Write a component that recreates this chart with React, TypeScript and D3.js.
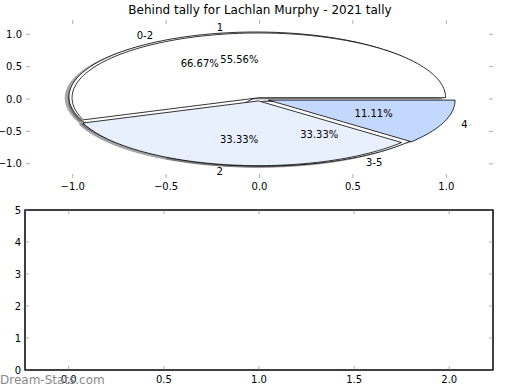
import * as d3 from "d3";

const TITLE = "Behind tally for Lachlan Murphy - 2021 tally";

// outer pie (drawn first)
const pie1Labels = ["0-2", "3-5"];
const pie1Values = [6, 3];
const pie1Colors = ["#ffffff", "#ffffff"];
const pie1Explode = [0.04, 0.04];

// inner pie (drawn on top)
const pie2Labels = ["1", "2", "4"];
const pie2Values = [5, 3, 1];
const pie2Colors = ["#ffffff", "#e8f0fe", "#c4d7fd"];
const pie2Explode = [0.02, 0.03, 0.05];

const topTicks = [-1.0, -0.5, 0.0, 0.5, 1.0];
const bottomXTicks = [0.0, 0.5, 1.0, 1.5, 2.0];
const bottomYTicks = [0, 1, 2, 3, 4, 5];

const FONT = "DejaVu Sans, sans-serif";
const TICK_COLOR = "#b0b0b0";
const TICK_LEN = 4;

const TOP = { left: 26, right: 493, top: 20, bottom: 178 };
const BOT = { left: 25, right: 493, top: 210, bottom: 370 };

type Wedge = {
  label: string;
  value: number;
  pct: number;
  a0: number;
  a1: number;
  color: string;
  explode: number;
};

const buildWedges = (
  labels: string[],
  values: number[],
  colors: string[],
  explode: number[]
): Wedge[] => {
  const total = d3.sum(values);
  // d3.pie gives cumulative angles; treat them as counter-clockwise from east
  const arcs = d3
    .pie<number>()
    .sort(null)
    .startAngle(0)
    .endAngle(2 * Math.PI)(values);
  return arcs.map((a, i) => ({
    label: labels[i],
    value: values[i],
    pct: (values[i] / total) * 100,
    a0: a.startAngle,
    a1: a.endAngle,
    color: colors[i],
    explode: explode[i],
  }));
};

const scaleColor = (c: string, k: number) => {
  const rgb = d3.rgb(c);
  return d3.rgb(rgb.r * k, rgb.g * k, rgb.b * k).formatHex();
};

export default function App() {
  const width = 520;
  const height = 390;

  const x = d3.scaleLinear().domain([-1.25, 1.25]).range([TOP.left, TOP.right]);
  const y = d3.scaleLinear().domain([-1.22, 1.22]).range([TOP.bottom, TOP.top]);

  const bx = d3.scaleLinear().domain([-0.23, 2.23]).range([BOT.left, BOT.right]);
  const by = d3.scaleLinear().domain([0, 5]).range([BOT.bottom, BOT.top]);

  const wedges1 = buildWedges(pie1Labels, pie1Values, pie1Colors, pie1Explode);
  const wedges2 = buildWedges(pie2Labels, pie2Values, pie2Colors, pie2Explode);

  const wedgePath = (w: Wedge, ox = 0, oy = 0) => {
    const mid = (w.a0 + w.a1) / 2;
    const cx = w.explode * Math.cos(mid) + ox;
    const cy = w.explode * Math.sin(mid) + oy;
    const n = Math.max(8, Math.ceil(((w.a1 - w.a0) / (2 * Math.PI)) * 180));
    const pts: [number, number][] = [[cx, cy]];
    d3.range(n + 1).forEach((k) => {
      const t = w.a0 + ((w.a1 - w.a0) * k) / n;
      pts.push([cx + Math.cos(t), cy + Math.sin(t)]);
    });
    const line = d3
      .line<[number, number]>()
      .x((d) => x(d[0]))
      .y((d) => y(d[1]));
    return line(pts) + "Z";
  };

  const textPos = (w: Wedge, r: number) => {
    const mid = (w.a0 + w.a1) / 2;
    const cx = w.explode * Math.cos(mid);
    const cy = w.explode * Math.sin(mid);
    return { px: x(cx + r * Math.cos(mid)), py: y(cy + r * Math.sin(mid)), cos: Math.cos(mid) };
  };

  const allWedges = [...wedges1, ...wedges2];

  return (
    <svg width={width} height={height} style={{ position: "absolute", left: 0, top: 0 }}>
      <rect width={width} height={height} fill="white" />
      <text x={260} y={14} textAnchor="middle" fontFamily={FONT} fontSize={12}>
        {TITLE}
      </text>

      {/* shadows sit below every wedge */}
      {allWedges.map((w, i) => (
        <path
          key={"s" + i}
          d={wedgePath(w, -0.02, -0.02)}
          fill={scaleColor(w.color, 0.3)}
          stroke={scaleColor(w.color, 0.3)}
          opacity={0.5}
        />
      ))}
      {allWedges.map((w, i) => (
        <path
          key={"w" + i}
          d={wedgePath(w)}
          fill={w.color}
          stroke="black"
          strokeWidth={0.8}
          strokeLinejoin="round"
        />
      ))}

      {/* labels and percentages */}
      {allWedges.map((w, i) => {
        const l = textPos(w, 1.1);
        const p = textPos(w, 0.6);
        return (
          <g key={"t" + i} fontFamily={FONT} fontSize={10}>
            <text x={l.px} y={l.py} dy="0.35em" textAnchor={l.cos < 0 ? "end" : "start"}>
              {w.label}
            </text>
            <text x={p.px} y={p.py} dy="0.35em" textAnchor="middle">
              {w.pct.toFixed(2)}%
            </text>
          </g>
        );
      })}

      {/* top axes ticks (no frame) */}
      {topTicks.map((t) => (
        <g key={"tx" + t}>
          <line x1={x(t)} x2={x(t)} y1={TOP.bottom} y2={TOP.bottom - TICK_LEN} stroke={TICK_COLOR} />
          <line x1={x(t)} x2={x(t)} y1={TOP.top} y2={TOP.top + TICK_LEN} stroke={TICK_COLOR} />
          <text x={x(t)} y={TOP.bottom + 12} textAnchor="middle" fontFamily={FONT} fontSize={10}>
            {d3.format(".1f")(t).replace("-", "\u2212")}
          </text>
        </g>
      ))}
      {topTicks.map((t) => (
        <g key={"ty" + t}>
          <line x1={TOP.left} x2={TOP.left + TICK_LEN} y1={y(t)} y2={y(t)} stroke={TICK_COLOR} />
          <line x1={TOP.right} x2={TOP.right - TICK_LEN} y1={y(t)} y2={y(t)} stroke={TICK_COLOR} />
          <text x={TOP.left - 4} y={y(t)} dy="0.35em" textAnchor="end" fontFamily={FONT} fontSize={10}>
            {d3.format(".1f")(t).replace("-", "\u2212")}
          </text>
        </g>
      ))}

      {/* bottom axes: empty */}
      <rect
        x={BOT.left}
        y={BOT.top}
        width={BOT.right - BOT.left}
        height={BOT.bottom - BOT.top}
        fill="white"
        stroke="black"
        strokeWidth={1}
      />
      {bottomXTicks.map((t) => (
        <g key={"bx" + t}>
          <line x1={bx(t)} x2={bx(t)} y1={BOT.bottom} y2={BOT.bottom - TICK_LEN} stroke={TICK_COLOR} />
          <line x1={bx(t)} x2={bx(t)} y1={BOT.top} y2={BOT.top + TICK_LEN} stroke={TICK_COLOR} />
          <text x={bx(t)} y={BOT.bottom + 13} textAnchor="middle" fontFamily={FONT} fontSize={10}>
            {d3.format(".1f")(t)}
          </text>
        </g>
      ))}
      {bottomYTicks.map((t) => (
        <g key={"by" + t}>
          <line x1={BOT.left} x2={BOT.left + TICK_LEN} y1={by(t)} y2={by(t)} stroke={TICK_COLOR} />
          <line x1={BOT.right} x2={BOT.right - TICK_LEN} y1={by(t)} y2={by(t)} stroke={TICK_COLOR} />
          <text x={BOT.left - 4} y={by(t)} dy="0.35em" textAnchor="end" fontFamily={FONT} fontSize={10}>
            {t}
          </text>
        </g>
      ))}
      <rect
        x={BOT.left}
        y={BOT.top}
        width={BOT.right - BOT.left}
        height={BOT.bottom - BOT.top}
        fill="none"
        stroke="black"
        strokeWidth={1}
      />

      <text x={0} y={384} fontFamily={FONT} fontSize={12} fill="#888888">
        Dream-Stats.com
      </text>
    </svg>
  );
}
